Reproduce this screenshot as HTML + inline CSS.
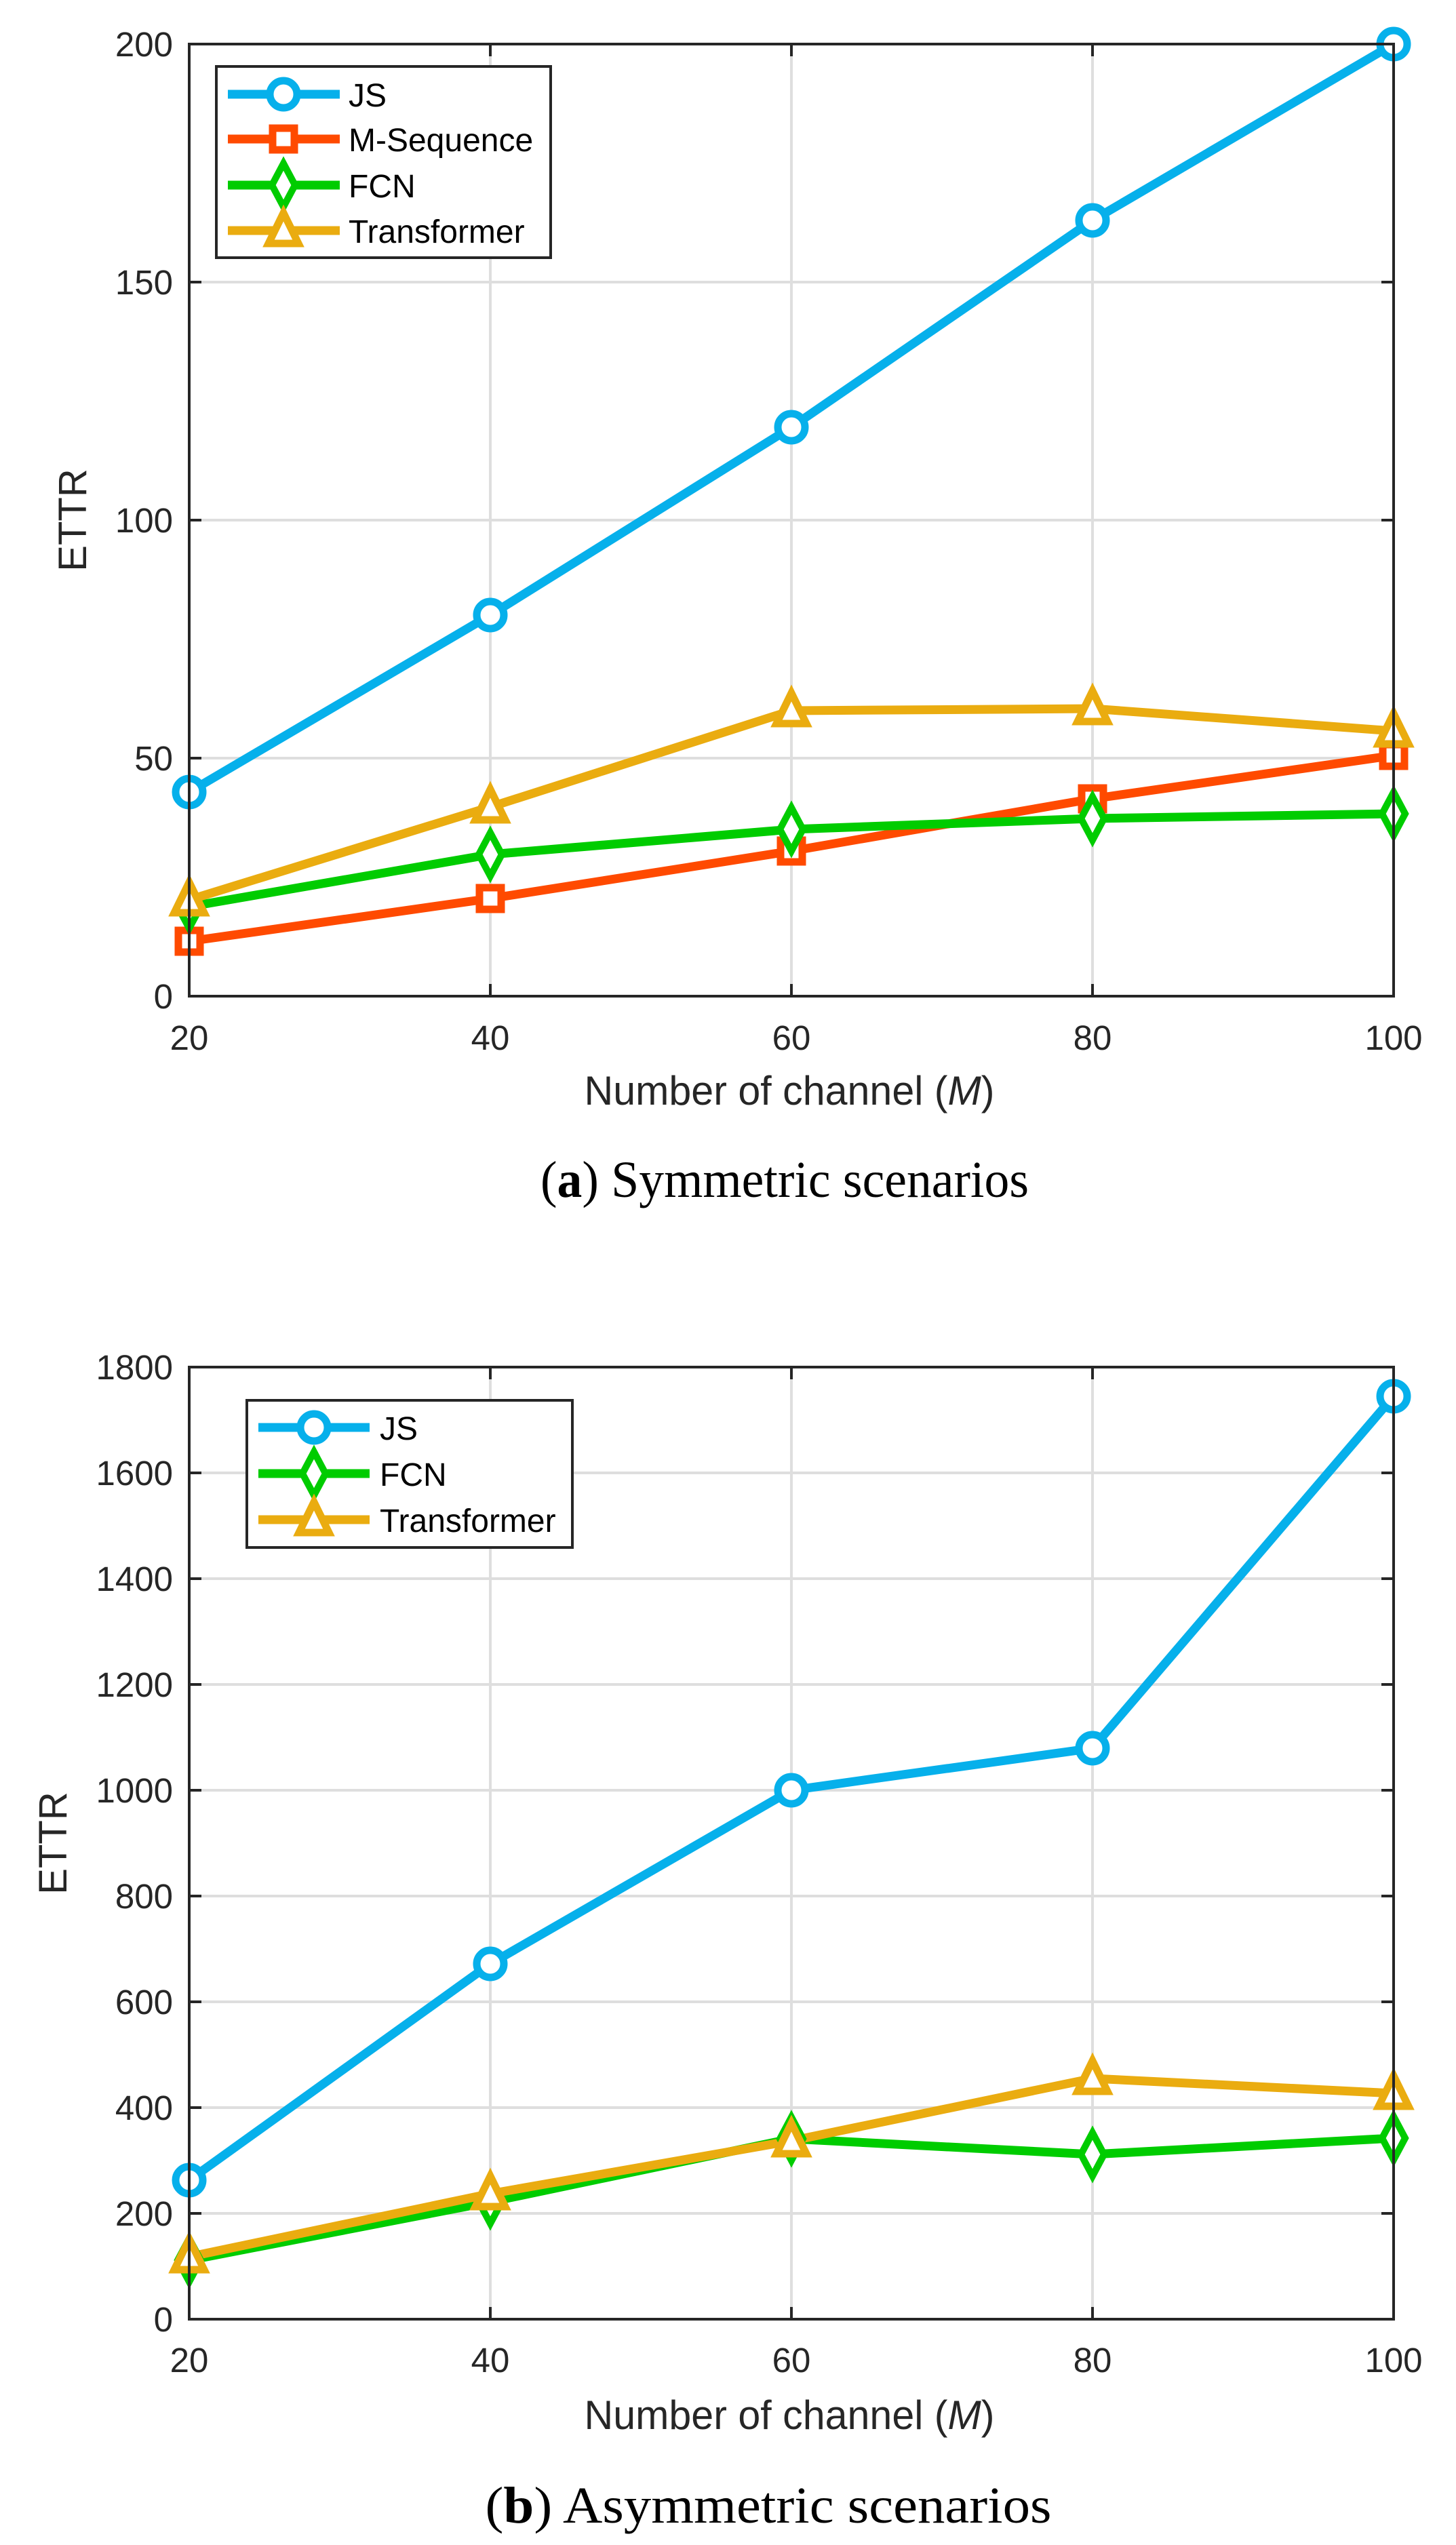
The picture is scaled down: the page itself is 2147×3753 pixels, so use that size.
<!DOCTYPE html>
<html><head><meta charset="utf-8"><style>html,body{margin:0;padding:0;background:#fff}svg{display:block}</style></head>
<body>
<svg width="2147" height="3753" viewBox="0 0 2147 3753" xmlns="http://www.w3.org/2000/svg" font-family="Liberation Sans, Arial, sans-serif">
<defs>
<g id="mc"><circle r="20" fill="#fff" stroke="#06B0EB" stroke-width="11"/></g>
<g id="ms"><rect x="-16" y="-16" width="32" height="32" fill="#fff" stroke="#FF4A00" stroke-width="11"/></g>
<g id="md"><path d="M0,-32 L17,0 L0,32 L-17,0 Z" fill="#fff" stroke="#00CC00" stroke-width="10"/></g>
<g id="mt"><path d="M0,-26 L22,19 L-22,19 Z" fill="#fff" stroke="#EAAC10" stroke-width="11"/></g>
</defs>

<!-- ===== Plot A ===== -->
<g stroke="#dedede" stroke-width="4">
<line x1="723" y1="65" x2="723" y2="1469"/><line x1="1167" y1="65" x2="1167" y2="1469"/><line x1="1611" y1="65" x2="1611" y2="1469"/>
<line x1="279" y1="416" x2="2055" y2="416"/><line x1="279" y1="767" x2="2055" y2="767"/><line x1="279" y1="1118" x2="2055" y2="1118"/>
</g>
<g stroke="#262626" stroke-width="4">
<line x1="279" y1="416" x2="297" y2="416"/><line x1="279" y1="767" x2="297" y2="767"/><line x1="279" y1="1118" x2="297" y2="1118"/>
<line x1="2037" y1="416" x2="2055" y2="416"/><line x1="2037" y1="767" x2="2055" y2="767"/><line x1="2037" y1="1118" x2="2055" y2="1118"/>
<line x1="723" y1="1469" x2="723" y2="1451"/><line x1="1167" y1="1469" x2="1167" y2="1451"/><line x1="1611" y1="1469" x2="1611" y2="1451"/>
<line x1="723" y1="65" x2="723" y2="83"/><line x1="1167" y1="65" x2="1167" y2="83"/><line x1="1611" y1="65" x2="1611" y2="83"/>
</g>
<g fill="none" stroke-width="13" stroke-linejoin="round">
<polyline stroke="#06B0EB" points="279,1168 723,907 1167,630 1611,325 2055,65"/>
<polyline stroke="#FF4A00" points="279,1388 723,1325 1167,1255 1611,1178 2055,1114"/>
<polyline stroke="#00CC00" points="279,1337 723,1260 1167,1223 1611,1207 2055,1200"/>
<polyline stroke="#EAAC10" points="279,1327 723,1190 1167,1048 1611,1045 2055,1078"/>
</g>
<use href="#mc" x="279" y="1168"/><use href="#mc" x="723" y="907"/><use href="#mc" x="1167" y="630"/><use href="#mc" x="1611" y="325"/><use href="#mc" x="2055" y="65"/>
<use href="#ms" x="279" y="1388"/><use href="#ms" x="723" y="1325"/><use href="#ms" x="1167" y="1255"/><use href="#ms" x="1611" y="1178"/><use href="#ms" x="2055" y="1114"/>
<use href="#md" x="279" y="1337"/><use href="#md" x="723" y="1260"/><use href="#md" x="1167" y="1223"/><use href="#md" x="1611" y="1207"/><use href="#md" x="2055" y="1200"/>
<use href="#mt" x="279" y="1327"/><use href="#mt" x="723" y="1190"/><use href="#mt" x="1167" y="1048"/><use href="#mt" x="1611" y="1045"/><use href="#mt" x="2055" y="1078"/>
<rect x="279" y="65" width="1776" height="1404" fill="none" stroke="#262626" stroke-width="4"/>
<!-- legend A -->
<rect x="319" y="98" width="493" height="282" fill="#fff" stroke="#262626" stroke-width="4"/>
<g stroke-width="13"><line x1="336" y1="139" x2="501" y2="139" stroke="#06B0EB"/><line x1="336" y1="205" x2="501" y2="205" stroke="#FF4A00"/><line x1="336" y1="273" x2="501" y2="273" stroke="#00CC00"/><line x1="336" y1="340" x2="501" y2="340" stroke="#EAAC10"/></g>
<use href="#mc" x="418" y="139"/><use href="#ms" x="418" y="205"/><use href="#md" x="418" y="273"/><use href="#mt" x="418" y="340"/>
<g font-size="48" fill="#000"><text x="514" y="157">JS</text><text x="514" y="223">M-Sequence</text><text x="514" y="291">FCN</text><text x="514" y="358">Transformer</text></g>
<g font-size="51" fill="#262626" text-anchor="end"><text x="255" y="83">200</text><text x="255" y="434">150</text><text x="255" y="785">100</text><text x="255" y="1136">50</text><text x="255" y="1487">0</text></g>
<g font-size="51" fill="#262626" text-anchor="middle"><text x="279" y="1548">20</text><text x="723" y="1548">40</text><text x="1167" y="1548">60</text><text x="1611" y="1548">80</text><text x="2055" y="1548">100</text></g>
<text x="1164" y="1629" font-size="60" fill="#262626" text-anchor="middle" textLength="605" lengthAdjust="spacingAndGlyphs">Number of channel (<tspan font-style="italic">M</tspan>)</text>
<text transform="translate(127,767) rotate(-90)" font-size="58" fill="#262626" text-anchor="middle">ETTR</text>
<text x="1157" y="1765" font-family="Liberation Serif, serif" font-size="76" fill="#000" text-anchor="middle" textLength="720" lengthAdjust="spacingAndGlyphs">(<tspan font-weight="bold">a</tspan>) Symmetric scenarios</text>

<!-- ===== Plot B ===== -->
<g stroke="#dedede" stroke-width="4">
<line x1="723" y1="2016" x2="723" y2="3420"/><line x1="1167" y1="2016" x2="1167" y2="3420"/><line x1="1611" y1="2016" x2="1611" y2="3420"/>
<line x1="279" y1="2172" x2="2055" y2="2172"/><line x1="279" y1="2328" x2="2055" y2="2328"/><line x1="279" y1="2484" x2="2055" y2="2484"/><line x1="279" y1="2640" x2="2055" y2="2640"/><line x1="279" y1="2796" x2="2055" y2="2796"/><line x1="279" y1="2952" x2="2055" y2="2952"/><line x1="279" y1="3108" x2="2055" y2="3108"/><line x1="279" y1="3264" x2="2055" y2="3264"/>
</g>
<g stroke="#262626" stroke-width="4">
<path d="M279,2172h18M279,2328h18M279,2484h18M279,2640h18M279,2796h18M279,2952h18M279,3108h18M279,3264h18"/>
<path d="M2055,2172h-18M2055,2328h-18M2055,2484h-18M2055,2640h-18M2055,2796h-18M2055,2952h-18M2055,3108h-18M2055,3264h-18"/>
<path d="M723,3420v-18M1167,3420v-18M1611,3420v-18M723,2016v18M1167,2016v18M1611,2016v18"/>
</g>
<g fill="none" stroke-width="13" stroke-linejoin="round">
<polyline stroke="#06B0EB" points="279,3215 723,2896 1167,2640 1611,2578 2055,2059"/>
<polyline stroke="#00CC00" points="279,3333 723,3247 1167,3154 1611,3177 2055,3153"/>
<polyline stroke="#EAAC10" points="279,3328 723,3235 1167,3157 1611,3065 2055,3087"/>
</g>
<use href="#mc" x="279" y="3215"/><use href="#mc" x="723" y="2896"/><use href="#mc" x="1167" y="2640"/><use href="#mc" x="1611" y="2578"/><use href="#mc" x="2055" y="2059"/>
<use href="#md" x="279" y="3333"/><use href="#md" x="723" y="3247"/><use href="#md" x="1167" y="3154"/><use href="#md" x="1611" y="3177"/><use href="#md" x="2055" y="3153"/>
<use href="#mt" x="279" y="3328"/><use href="#mt" x="723" y="3235"/><use href="#mt" x="1167" y="3157"/><use href="#mt" x="1611" y="3065"/><use href="#mt" x="2055" y="3087"/>
<rect x="279" y="2016" width="1776" height="1404" fill="none" stroke="#262626" stroke-width="4"/>
<!-- legend B -->
<rect x="364" y="2065" width="480" height="217" fill="#fff" stroke="#262626" stroke-width="4"/>
<g stroke-width="13"><line x1="381" y1="2105" x2="545" y2="2105" stroke="#06B0EB"/><line x1="381" y1="2173" x2="545" y2="2173" stroke="#00CC00"/><line x1="381" y1="2241" x2="545" y2="2241" stroke="#EAAC10"/></g>
<use href="#mc" x="463" y="2105"/><use href="#md" x="463" y="2173"/><use href="#mt" x="463" y="2241"/>
<g font-size="48" fill="#000"><text x="560" y="2123">JS</text><text x="560" y="2191">FCN</text><text x="560" y="2259">Transformer</text></g>
<g font-size="51" fill="#262626" text-anchor="end"><text x="255" y="2034">1800</text><text x="255" y="2190">1600</text><text x="255" y="2346">1400</text><text x="255" y="2502">1200</text><text x="255" y="2658">1000</text><text x="255" y="2814">800</text><text x="255" y="2970">600</text><text x="255" y="3126">400</text><text x="255" y="3282">200</text><text x="255" y="3438">0</text></g>
<g font-size="51" fill="#262626" text-anchor="middle"><text x="279" y="3498">20</text><text x="723" y="3498">40</text><text x="1167" y="3498">60</text><text x="1611" y="3498">80</text><text x="2055" y="3498">100</text></g>
<text x="1164" y="3582" font-size="60" fill="#262626" text-anchor="middle" textLength="605" lengthAdjust="spacingAndGlyphs">Number of channel (<tspan font-style="italic">M</tspan>)</text>
<text transform="translate(98,2718) rotate(-90)" font-size="58" fill="#262626" text-anchor="middle">ETTR</text>
<text x="1133" y="3720" font-family="Liberation Serif, serif" font-size="76" fill="#000" text-anchor="middle" textLength="835" lengthAdjust="spacingAndGlyphs">(<tspan font-weight="bold">b</tspan>) Asymmetric scenarios</text>
</svg>
</body></html>
